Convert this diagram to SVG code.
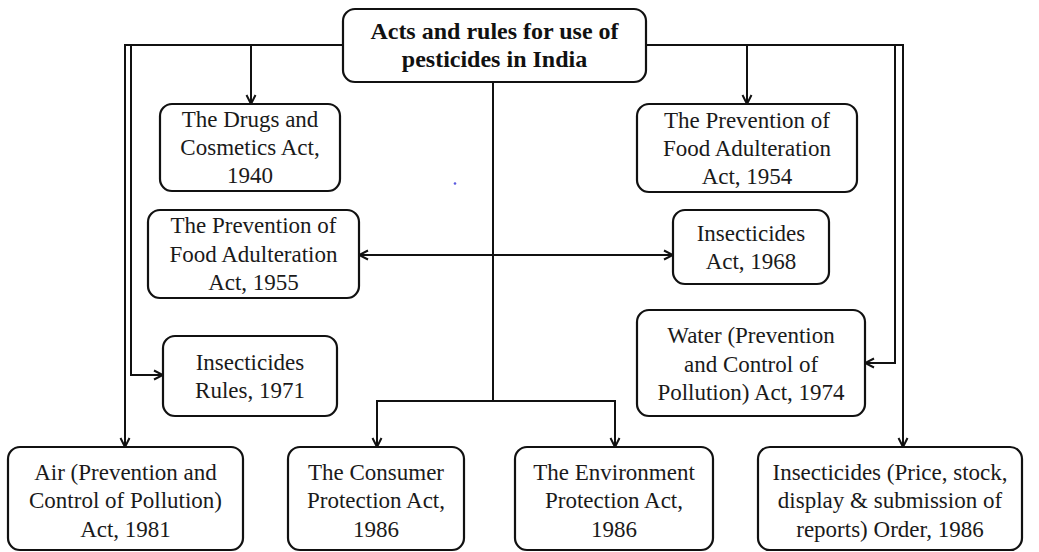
<svg xmlns="http://www.w3.org/2000/svg" width="1039" height="552" viewBox="0 0 1039 552">
<style>
.box{fill:#fff;stroke:#111;stroke-width:2.2}
.t{font-size:23px;fill:#1a1a1a;text-anchor:middle}
.tb{font-size:24px;font-weight:bold;fill:#111;text-anchor:middle}
.ln{fill:none;stroke:#111;stroke-width:2}
</style>
<defs>
<marker id="ah" viewBox="0 0 12 12" refX="11" refY="6" markerWidth="12" markerHeight="12" markerUnits="userSpaceOnUse" orient="auto-start-reverse">
<path d="M2,1.5 L11,6 L2,10.5" fill="none" stroke="#111" stroke-width="2"/>
</marker>
</defs>
<rect width="1039" height="552" fill="#fff"/>
<g id="connectors">
<path class="ln" d="M343,45 H125 V447" marker-end="url(#ah)"/>
<path class="ln" d="M131,45 V375 H163" marker-end="url(#ah)"/>
<path class="ln" d="M251,45 V104" marker-end="url(#ah)"/>
<path class="ln" d="M646,45 H903 V447" marker-end="url(#ah)"/>
<path class="ln" d="M895,45 V363 H865" marker-end="url(#ah)"/>
<path class="ln" d="M747,45 V104" marker-end="url(#ah)"/>
<path class="ln" d="M493,82 V401"/>
<path class="ln" d="M493,401 H377 V447" marker-end="url(#ah)"/>
<path class="ln" d="M493,401 H615 V447" marker-end="url(#ah)"/>
<path class="ln" d="M359,255 H673" marker-start="url(#ah)" marker-end="url(#ah)"/>
</g>
<g id="nodes" font-family="Liberation Serif">
<g id="title">
<rect class="box" x="343" y="9" width="303" height="73" rx="12"/>
<text class="tb" x="494.5" y="39">Acts and rules for use of</text>
<text class="tb" x="494.5" y="67">pesticides in India</text>
</g>
<g id="drugs">
<rect class="box" x="160" y="104" width="180" height="87" rx="12"/>
<text class="t" x="250" y="127">The Drugs and</text>
<text class="t" x="250" y="155">Cosmetics Act,</text>
<text class="t" x="250" y="183">1940</text>
</g>
<g id="pfa1954">
<rect class="box" x="637" y="104" width="220" height="88" rx="12"/>
<text class="t" x="747" y="128">The Prevention of</text>
<text class="t" x="747" y="156">Food Adulteration</text>
<text class="t" x="747" y="184">Act, 1954</text>
</g>
<g id="pfa1955">
<rect class="box" x="148" y="210" width="211" height="88" rx="12"/>
<text class="t" x="253.5" y="233">The Prevention of</text>
<text class="t" x="253.5" y="262">Food Adulteration</text>
<text class="t" x="253.5" y="290">Act, 1955</text>
</g>
<g id="insact">
<rect class="box" x="673" y="210" width="156" height="74" rx="12"/>
<text class="t" x="751" y="241">Insecticides</text>
<text class="t" x="751" y="269">Act, 1968</text>
</g>
<g id="insrules">
<rect class="box" x="163" y="336" width="174" height="80" rx="12"/>
<text class="t" x="250" y="370">Insecticides</text>
<text class="t" x="250" y="398">Rules, 1971</text>
</g>
<g id="water">
<rect class="box" x="637" y="310" width="228" height="106" rx="12"/>
<text class="t" x="751" y="343">Water (Prevention</text>
<text class="t" x="751" y="372">and Control of</text>
<text class="t" x="751" y="400">Pollution) Act, 1974</text>
</g>
<g id="air">
<rect class="box" x="8" y="447" width="235" height="103" rx="12"/>
<text class="t" x="125.5" y="480">Air (Prevention and</text>
<text class="t" x="125.5" y="508">Control of Pollution)</text>
<text class="t" x="125.5" y="537">Act, 1981</text>
</g>
<g id="consumer">
<rect class="box" x="288" y="447" width="176" height="103" rx="12"/>
<text class="t" x="376" y="480">The Consumer</text>
<text class="t" x="376" y="508">Protection Act,</text>
<text class="t" x="376" y="537">1986</text>
</g>
<g id="environment">
<rect class="box" x="515" y="447" width="198" height="103" rx="12"/>
<text class="t" x="614" y="480">The Environment</text>
<text class="t" x="614" y="508">Protection Act,</text>
<text class="t" x="614" y="537">1986</text>
</g>
<g id="order">
<rect class="box" x="758" y="447" width="264" height="103" rx="12"/>
<text class="t" x="890" y="480">Insecticides (Price, stock,</text>
<text class="t" x="890" y="508">display &amp; submission of</text>
<text class="t" x="890" y="537">reports) Order, 1986</text>
</g>
</g>
<circle cx="455" cy="183.5" r="1.3" fill="#5a5ae0"/>
</svg>
